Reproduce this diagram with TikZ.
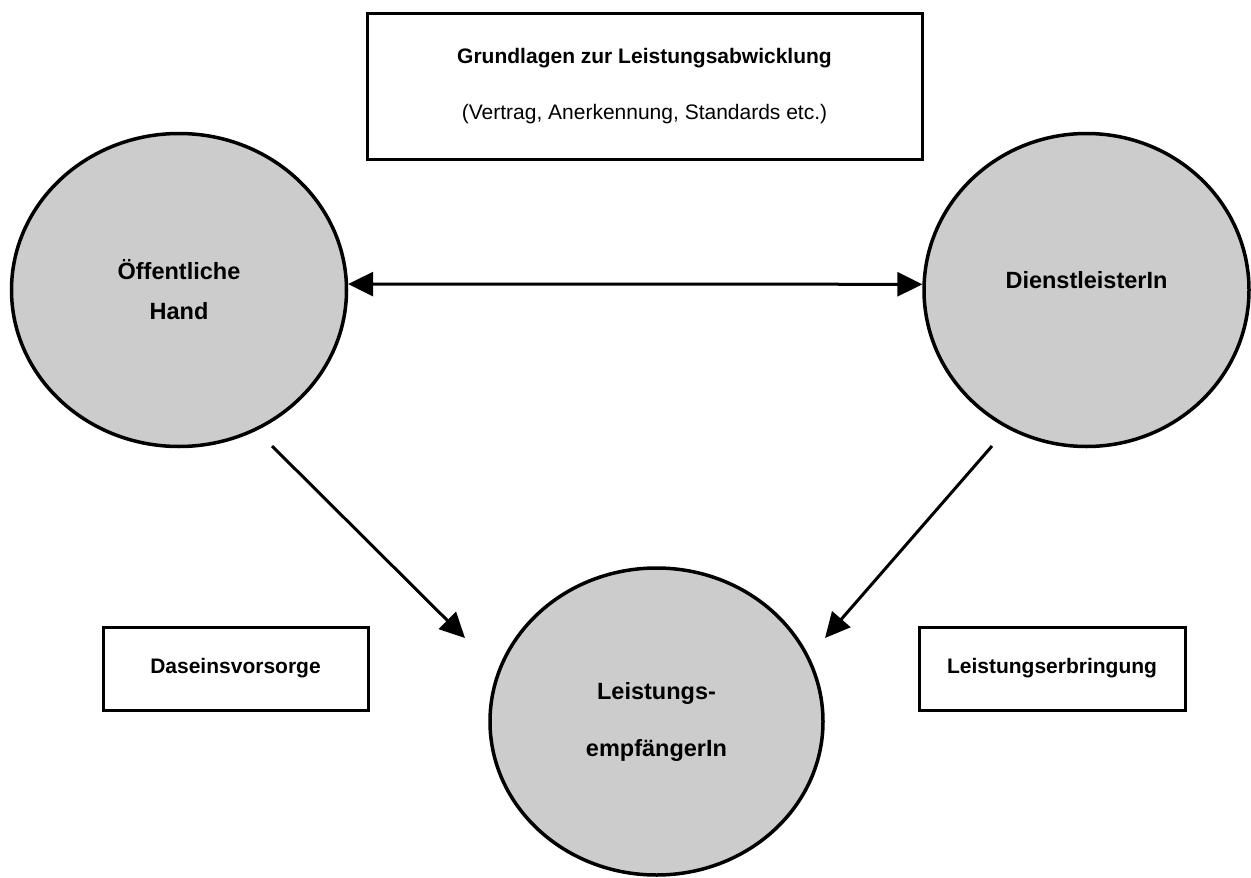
\documentclass[tikz,border=0pt]{standalone}
\usepackage{fontspec}
\setmainfont{Liberation Sans}
\usetikzlibrary{shapes.geometric}
\usetikzlibrary{arrows.meta}

\begin{document}
\begin{tikzpicture}[x=1pt,y=-1pt,
   party/.style={ellipse,draw,line width=3.5pt,fill=black!20,inner sep=0pt,
     align=center,font=\fontsize{23.5}{40}\selectfont\bfseries},
   infobox/.style={rectangle,draw,line width=3pt,inner sep=0pt,align=center,
     minimum height=83pt,font=\fontsize{21}{25}\selectfont\bfseries},
   link/.style={line width=3pt,-{Triangle[length=25pt,width=24pt]}}]
\useasboundingbox (0,0) rectangle (1251,878);
\node[infobox,minimum width=555pt,minimum height=146pt,
   font=\fontsize{21}{56}\selectfont] (basis) at (644.5,86)
   {\textbf{Grundlagen zur Leistungsabwicklung}\\(Vertrag, Anerkennung, Standards etc.)};
\node[party,minimum width=335pt,minimum height=313pt] (hand) at (179,290) {Öffentliche\\Hand};
\node[party,minimum width=325pt,minimum height=313pt] (dienst) at (1086.5,290) {\raisebox{20pt}{DienstleisterIn}};
\node[party,minimum width=333pt,minimum height=307pt,
   font=\fontsize{23.5}{57}\selectfont\bfseries] (empf) at (656.5,721.5) {Leistungs-\\empfängerIn};
\node[infobox,minimum width=265pt] (dasein) at (235.5,668.5) {Daseinsvorsorge};
\node[infobox,minimum width=266pt] (erbring) at (1052,668.5) {Leistungserbringung};
\coordinate (hand-out) at (272,446);
\coordinate (empf-left) at (465,638);
\coordinate (dienst-out) at (992,446);
\coordinate (empf-right) at (825,638);
\draw[link,{Triangle[length=25pt,width=24pt]}-{Triangle[length=25pt,width=24pt]}] (hand.2) -- (dienst.178);
\draw[link] (hand-out) -- (empf-left);
\draw[link] (dienst-out) -- (empf-right);
\end{tikzpicture}
\end{document}
